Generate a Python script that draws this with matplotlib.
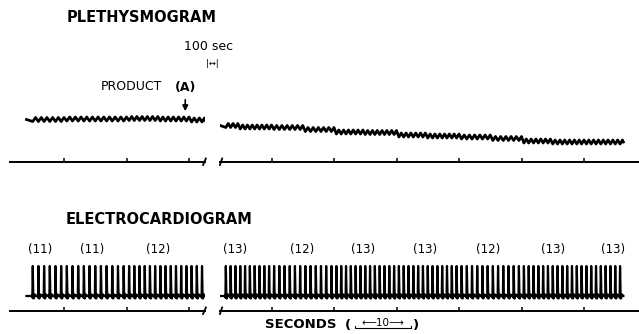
import numpy as np
import matplotlib.pyplot as plt
from matplotlib.lines import Line2D

# beats per 10 s interval
left_starts = [0, 10, 20, 30]
left_counts = [11, 11, 12, 12]
right_starts = [130, 140, 150, 160, 170, 180, 190]
right_counts = [13, 12, 13, 13, 12, 13, 13]

count_labels = ['(11)', '(11)', '(12)', '(13)', '(12)', '(13)', '(13)', '(12)', '(13)', '(13)']
label_times = [6.2, 14.5, 25.0, 134.2, 144.9, 154.6, 164.6, 174.7, 185.1, 194.6]

# plethysmogram level read every 5 s (arbitrary units above the time line)
left_pleth_t = [0, 5, 10, 15, 20, 25, 30]
left_pleth = [42.5, 42.5, 43.0, 43.0, 43.5, 43.0, 42.0]
right_pleth_t = [130, 135, 140, 145, 150, 155, 160, 165, 170, 175, 180, 185, 190, 195]
right_pleth = [36.5, 35.0, 34.5, 32.5, 30.0, 29.5, 27.0, 26.0, 25.0, 23.5, 21.0, 20.0, 20.0, 20.0]

# recorded stretch of each trace (seconds)
left_span = (4.0, 32.4)
right_span = (131.8, 196.3)

left_ticks = [10, 20, 30]
right_ticks = [140, 150, 160, 170, 180, 190]

# one beat: ECG complex and pulse wave shape
ecg_dt = [-0.30, -0.12, -0.07, 0.0, 0.10, 0.16, 0.26, 0.34, 0.45]
ecg_val = [0.0, 0.03, -0.05, 1.0, -0.08, -0.08, 0.0, 0.05, 0.0]
pulse_phase = [0.0, 0.5]
pulse_val = [-0.5, 0.5]

ECG_BASE = 15
ECG_AMP = 30
PULSE_AMP = 4.0

W, H = 639, 334
SCALE = 6.25  # px per second
fig = plt.figure(figsize=(W / 100, H / 100), dpi=100)


def px_axes(x0, x1, y0, y1):
    ax = fig.add_axes([x0 / W, 1 - y1 / H, (x1 - x0) / W, (y1 - y0) / H])
    ax.set_facecolor('none')
    for s in ['top', 'left', 'right']:
        ax.spines[s].set_visible(False)
    ax.spines['bottom'].set_linewidth(1.4)
    ax.set_yticks([])
    ax.tick_params(axis='x', direction='in', length=3, width=1.1, labelbottom=False)
    return ax


def beats(starts, counts, span):
    out = []
    for s, n in zip(starts, counts):
        for k in range(n):
            t = s + (k + 0.5) * 10.0 / n
            if span[0] + 0.3 <= t <= span[1] - 0.3:
                out.append((t, 10.0 / n))
    return out


def level_at(t, ts, levels):
    i = max(j for j, s in enumerate(ts) if s <= t)
    return levels[i]


def ecg_trace(bts, span):
    xs, ys = [span[0]], [ECG_BASE]
    for t, per in bts:
        for d, v in zip(ecg_dt, ecg_val):
            xs.append(t + d)
            ys.append(ECG_BASE + ECG_AMP * v)
    xs.append(span[1])
    ys.append(ECG_BASE)
    return xs, ys


def pleth_trace(bts, ts, levels, span):
    xs, ys = [span[0]], [level_at(span[0], ts, levels)]
    for t, per in bts:
        lev = level_at(t, ts, levels)
        for p, v in zip(pulse_phase, pulse_val):
            xs.append(t + p * per)
            ys.append(lev + PULSE_AMP * v)
    xs.append(span[1])
    ys.append(level_at(span[1], ts, levels))
    return xs, ys


def setup(ax, side):
    if side == 'left':
        ax.set_xlim((10 - 1.5) / SCALE, (205 - 1.5) / SCALE)
        ax.set_xticks(left_ticks)
        ax.plot([32.25, 32.7], [-3, 3.5], color='k', lw=1.3, clip_on=False)
    else:
        ax.set_xlim(150 + (220 - 334) / SCALE, 150 + (639 - 334) / SCALE)
        ax.set_xticks(right_ticks)
        ax.plot([131.75, 132.1], [-3, 3.5], color='k', lw=1.3, clip_on=False)


# plethysmogram panels
for side, starts, counts, ts, levels, span in [
        ('left', left_starts, left_counts, left_pleth_t, left_pleth, left_span),
        ('right', right_starts, right_counts, right_pleth_t, right_pleth, right_span)]:
    x0, x1 = (10, 205) if side == 'left' else (220, 639)
    ax = px_axes(x0, x1, 95, 162)
    ax.set_ylim(0, 67)
    setup(ax, side)
    bts = beats(starts, counts, span)
    xs, ys = pleth_trace(bts, ts, levels, span)
    ax.plot(xs, ys, color='k', lw=2.0, solid_joinstyle='round')
    if side == 'left':
        ax.annotate('', xy=(29.4, 48), xytext=(29.4, 65), annotation_clip=False,
                    arrowprops=dict(arrowstyle='-|>', color='k', lw=1.2, mutation_scale=8))

# electrocardiogram panels
for side, starts, counts, span in [
        ('left', left_starts, left_counts, left_span),
        ('right', right_starts, right_counts, right_span)]:
    x0, x1 = (10, 205) if side == 'left' else (220, 639)
    ax = px_axes(x0, x1, 255, 311)
    ax.set_ylim(0, 56)
    setup(ax, side)
    bts = beats(starts, counts, span)
    xs, ys = ecg_trace(bts, span)
    ax.plot(xs, ys, color='k', lw=1.6)
    for lab, t in zip(count_labels, label_times):
        if (side == 'left') == (t < 100):
            ax.text(t, 61, lab, ha='center', va='center', fontsize=8.5, clip_on=False)


def ftext(x, y, s, **kw):
    fig.text(x / W, 1 - y / H, s, ha='center', va='center', **kw)


ftext(142, 17, 'PLETHYSMOGRAM', fontsize=10.5, fontweight='bold')
ftext(159, 220, 'ELECTROCARDIOGRAM', fontsize=10.5, fontweight='bold')
ftext(209, 46, '100 sec', fontsize=9)
ftext(212, 63, '|↔|', fontsize=6)
ftext(131, 87, 'PRODUCT', fontsize=9)
ftext(186, 87, '(A)', fontsize=9, fontweight='bold')
ftext(301, 325, 'SECONDS', fontsize=9.5, fontweight='bold')
ftext(348, 325, '(', fontsize=9.5, fontweight='bold')
ftext(383, 323, '⟵10⟶', fontsize=7.5)
ftext(416, 325, ')', fontsize=9.5, fontweight='bold')
# small bracket under the 10 s scale
fig.add_artist(Line2D([355 / W, 355 / W, 411 / W, 411 / W],
                      [1 - 326 / H, 1 - 328 / H, 1 - 328 / H, 1 - 326 / H],
                      color='k', lw=0.8))

fig.savefig('out.png', dpi=100)
